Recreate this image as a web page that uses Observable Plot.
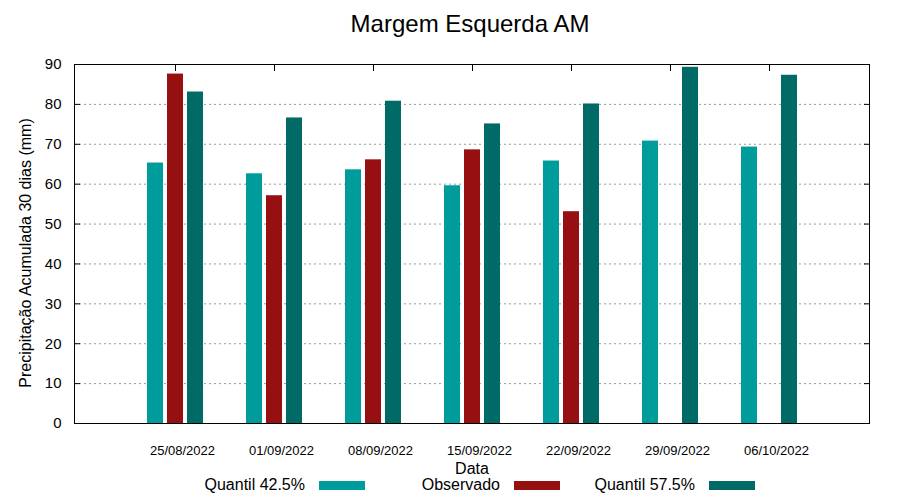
<!DOCTYPE html>
<html>
<head>
<meta charset="utf-8">
<script src="https://cdn.jsdelivr.net/npm/d3@7"></script>
<script src="https://cdn.jsdelivr.net/npm/@observablehq/plot@0.6"></script>
<style>
  html, body { margin: 0; padding: 0; background: #fff; }
  body { width: 900px; height: 500px; overflow: hidden; font-family: "Liberation Sans", Arial, sans-serif; color: #000; }
  #title { height: 48px; line-height: 48px; text-align: center; font-size: 24px; padding-left: 40px; width: 860px; }
  #chart svg { display: block; }
  #legend { position: relative; height: 24px; font-size: 16px; }
  .item { position: absolute; top: 0; height: 18px; display: flex; align-items: center; justify-content: flex-end; width: 200px; }
  .item span.sw { display: inline-block; width: 46px; height: 9px; margin-left: 14px; }
</style>
</head>
<body>
<div id="title">Margem Esquerda AM</div>
<div id="chart"></div>
<div id="legend"></div>
<script>
const dates = ["25/08/2022", "01/09/2022", "08/09/2022", "15/09/2022", "22/09/2022", "29/09/2022", "06/10/2022"];
const q425 = [65.3, 62.6, 63.6, 59.6, 65.8, 70.8, 69.3];
const observado = [87.6, 57.1, 66.1, 68.6, 53.1, null, null];
const q575 = [83.1, 76.6, 80.8, 75.1, 80.1, 89.3, 87.3];
const seriesNames = ["Quantil 42.5%", "Observado", "Quantil 57.5%"];
const seriesColors = ["#009b9b", "#960f11", "#006a67"];
const yTicks = [0, 10, 20, 30, 40, 50, 60, 70, 80, 90];
const gridTicks = [10, 20, 30, 40, 50, 60, 70, 80];

const seriesValues = [q425, observado, q575];
const offsets = [-20, 0, 20];

const rows = seriesValues.map(vals => dates.map((d, i) => ({date: d, value: vals[i]})));

const marks = [
  Plot.gridY(gridTicks, {stroke: "#999", strokeOpacity: 1, strokeDasharray: "2,3"}),
  ...rows.map((r, k) => Plot.barY(r, {x: "date", y: "value", fill: seriesColors[k], dx: offsets[k], filter: d => d.value != null})),
  Plot.axisY(yTicks, {anchor: "left", tickSize: 0, tickPadding: 13, fontSize: 15, label: null}),
  Plot.axisY(gridTicks, {anchor: "left", tickSize: 6, dx: 6, text: null, label: null}),
  Plot.axisY(gridTicks, {anchor: "right", tickSize: 6, dx: -6, text: null, label: null}),
  Plot.axisX({anchor: "bottom", tickSize: 0, tickPadding: 22, dx: 7, fontSize: 13, label: null}),
  Plot.axisX({anchor: "top", tickSize: 6, dy: 6, text: null, label: null}),
  Plot.frame({stroke: "#000"}),
  Plot.text(["Data"], {frameAnchor: "bottom", dy: 45, fontSize: 16, lineAnchor: "middle"}),
  Plot.text(["Precipitação Acumulada 30 dias (mm)"], {frameAnchor: "left", textAnchor: "middle", rotate: -90, dx: -49, dy: 9, fontSize: 16, lineAnchor: "middle"})
];

const chart = Plot.plot({
  width: 900,
  height: 428,
  marginLeft: 74,
  marginRight: 31,
  marginTop: 16,
  marginBottom: 53,
  style: {fontFamily: "Liberation Sans, Arial, sans-serif", fontSize: "15px", color: "#000", background: "#fff", overflow: "visible"},
  x: {type: "band", domain: dates, paddingInner: 0.839, paddingOuter: 0.92, axis: null},
  y: {domain: [0, 90], axis: null},
  marks
});
document.getElementById("chart").appendChild(chart);

const legend = document.getElementById("legend");
const rightEdges = [365, 560, 755];
seriesNames.forEach((name, k) => {
  const it = document.createElement("div");
  it.className = "item";
  it.style.left = (rightEdges[k] - 200) + "px";
  it.innerHTML = `<span>${name}</span><span class="sw" style="background:${seriesColors[k]}"></span>`;
  legend.appendChild(it);
});
</script>
</body>
</html>
